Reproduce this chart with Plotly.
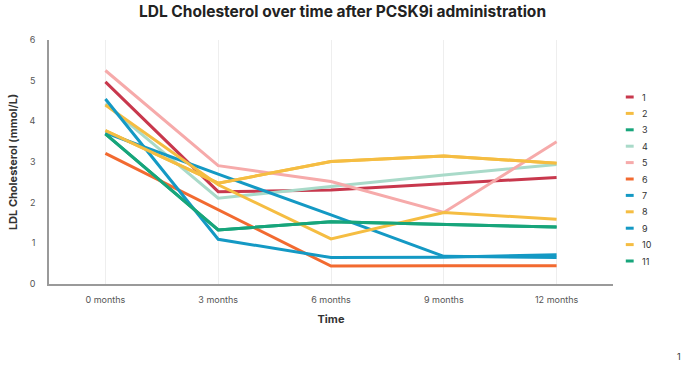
import plotly.graph_objects as go

time_labels = ["0 months", "3 months", "6 months", "9 months", "12 months"]
series_names = ["1", "2", "3", "4", "5", "6", "7", "8", "9", "10", "11"]
series_colors = ["#c8384d", "#f5bd42", "#17a57b", "#a9dac9", "#f6aaaa", "#f26a30",
                 "#1499c4", "#f5bd42", "#1499c4", "#f5bd42", "#17a57b"]

s1 = [4.97, 2.27, 2.31, 2.47, 2.62]
s2 = [3.77, 2.48, 3.01, 3.15, 2.97]
s3 = [3.69, 1.33, 1.53, 1.47, 1.40]
s4 = [4.43, 2.11, 2.40, 2.68, 2.94]
s5 = [5.25, 2.91, 2.52, 1.76, 3.50]
s6 = [3.21, 1.83, 0.44, 0.45, 0.45]
s7 = [3.72, 2.70, 1.70, 0.68, 0.65]
s8 = [4.40, 2.44, 1.11, 1.76, 1.59]
s9 = [4.55, 1.10, 0.65, 0.66, 0.72]
s10 = [3.77, 2.48, 3.01, 3.15, 2.97]
s11 = [3.69, 1.33, 1.53, 1.47, 1.40]
series_values = [s1, s2, s3, s4, s5, s6, s7, s8, s9, s10, s11]

y_ticks = [0, 1, 2, 3, 4, 5, 6]

FONT = "Inter"

fig = go.Figure()
for name, color, vals in zip(series_names, series_colors, series_values):
    fig.add_trace(go.Scatter(x=time_labels, y=vals, mode="lines", name=name,
                             line=dict(color=color, width=3), showlegend=False))

# compact legend drawn in paper coordinates
legend_top = 97
legend_step = 16.4
for i, (name, color) in enumerate(zip(series_names, series_colors)):
    ypx = legend_top + i * legend_step
    yp = 1 - (ypx - 40) / (284 - 40)
    fig.add_shape(type="line", xref="paper", yref="paper",
                  x0=(626 - 40) / 573, x1=(634 - 40) / 573, y0=yp, y1=yp,
                  line=dict(color=color, width=3))
    fig.add_annotation(xref="paper", yref="paper", x=(640 - 40) / 573, y=yp,
                       text=name, showarrow=False, xanchor="left", yanchor="middle",
                       font=dict(family=FONT, size=9, color="#333333"))

fig.add_annotation(xref="paper", yref="paper", x=(684 - 40) / 573, y=1 - (356 - 40) / 244,
                   text="1", showarrow=False, xanchor="right", yanchor="middle",
                   font=dict(family=FONT, size=9, color="#333333"))

fig.update_layout(
    width=685, height=365,
    margin=dict(l=40, r=72, t=40, b=81),
    paper_bgcolor="white", plot_bgcolor="white",
    title=dict(text="<b>LDL Cholesterol over time after PCSK9i administration</b>",
               x=0.5, xanchor="center", y=1 - 12 / 365, yanchor="middle",
               font=dict(family=FONT, size=15.5, color="#222222")),
    font=dict(family=FONT),
    xaxis=dict(type="category", range=[-0.5, 4.5],
               showgrid=True, gridcolor="#eeeeee", gridwidth=1,
               showline=True, linecolor="#9a9a9a", linewidth=2,
               ticks="outside", ticklen=6, tickcolor="rgba(0,0,0,0)",
               tickfont=dict(family=FONT, size=9, color="#555555"),
               title=dict(text="<b>Time</b>", standoff=12,
                          font=dict(family=FONT, size=11, color="#333333"))),
    yaxis=dict(range=[0, 6], tickvals=y_ticks, showgrid=False, zeroline=False,
               showline=True, linecolor="#9a9a9a", linewidth=1.5,
               ticks="outside", ticklen=10, tickcolor="rgba(0,0,0,0)",
               tickfont=dict(family=FONT, size=9, color="#555555"),
               title=dict(text="<b>LDL Cholesterol (mmol/L)</b>", standoff=10,
                          font=dict(family=FONT, size=11, color="#333333"))),
)

fig.write_html("out.html", config={"displayModeBar": False},
               post_script="document.body.style.margin='0';")
